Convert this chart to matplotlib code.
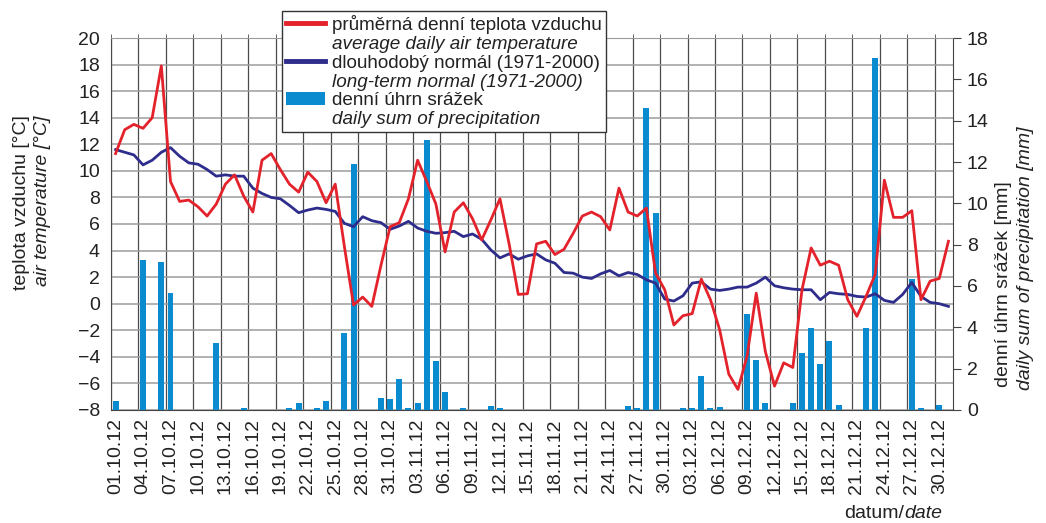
import matplotlib
matplotlib.use("Agg")
import matplotlib.pyplot as plt
from matplotlib.lines import Line2D
from matplotlib.patches import Patch
import numpy as np
import pandas as pd

plt.rcParams['font.family'] = ['Liberation Sans', 'DejaVu Sans']

# daily values, 1.10.2012 - 31.12.2012
dates = pd.date_range("2012-10-01", "2012-12-31", freq="D")

temp = [11.3, 13.1, 13.5, 13.2, 14.0, 17.9, 9.2, 7.7, 7.8, 7.3,
        6.6, 7.5, 9.0, 9.7, 8.1, 6.9, 10.8, 11.3, 10.1, 9.0,
        8.4, 9.9, 9.2, 7.6, 9.0, 4.3, -0.1, 0.5, -0.2, 2.9,
        5.8, 6.1, 7.9, 10.8, 9.2, 7.5, 3.9, 6.9, 7.6, 6.4,
        4.8, 6.3, 7.9, 4.5, 0.7, 0.75, 4.5, 4.7, 3.7, 4.1,
        5.3, 6.6, 6.9, 6.55, 5.55, 8.7, 6.9, 6.6, 7.2, 2.3,
        1.05, -1.6, -0.9, -0.75, 1.85, 0.3, -1.95, -5.3, -6.45, -3.95,
        0.8, -3.6, -6.2, -4.45, -4.8, 1.05, 4.2, 2.9, 3.2, 2.9,
        0.3, -0.95, 0.55, 2.2, 9.3, 6.5, 6.5, 7.0, 0.3, 1.7,
        1.9, 4.7]

normal = [11.6, 11.4, 11.2, 10.45, 10.8, 11.4, 11.75, 11.1, 10.6, 10.5,
          10.1, 9.6, 9.7, 9.6, 9.6, 8.7, 8.3, 8.0, 7.9, 7.4,
          6.85, 7.05, 7.2, 7.1, 6.95, 6.05, 5.8, 6.55, 6.25, 6.1,
          5.6, 5.85, 6.2, 5.7, 5.45, 5.3, 5.35, 5.45, 5.05, 5.25,
          4.85, 4.05, 3.45, 3.75, 3.35, 3.6, 3.75, 3.3, 3.05, 2.35,
          2.3, 2.0, 1.9, 2.25, 2.5, 2.1, 2.35, 2.2, 1.8, 1.55,
          0.35, 0.2, 0.6, 1.55, 1.65, 1.1, 1.0, 1.1, 1.25, 1.25,
          1.55, 2.0, 1.35, 1.2, 1.1, 1.05, 1.05, 0.3, 0.85, 0.75,
          0.7, 0.55, 0.5, 0.75, 0.25, 0.1, 0.7, 1.6, 0.55, 0.1,
          0.0, -0.2]

precip = [0.44, 0, 0, 7.25, 0, 7.15, 5.65, 0, 0, 0,
          0, 3.25, 0, 0, 0.1, 0, 0, 0, 0, 0.1,
          0.32, 0, 0.1, 0.42, 0, 3.75, 11.9, 0, 0, 0.6,
          0.52, 1.5, 0.1, 0.32, 13.05, 2.35, 0.85, 0, 0.1, 0,
          0, 0.21, 0.1, 0, 0, 0, 0, 0, 0, 0,
          0, 0, 0, 0, 0, 0, 0.2, 0.1, 14.6, 9.55,
          0, 0, 0.1, 0.1, 1.65, 0.1, 0.15, 0, 0, 4.65,
          2.42, 0.32, 0, 0, 0.32, 2.75, 3.95, 2.22, 3.35, 0.24,
          0, 0, 3.95, 17.05, 0, 0, 0, 6.35, 0.1, 0,
          0.25, 0]

RED = '#e3222b'
NAVY = '#2e2d8c'
BAR = '#0a8bd0'
TXT = '#222222'
GRIDV = '#4a4a4a'
GRIDH = '#9c9c9c'

x = np.arange(len(dates))

fig = plt.figure(figsize=(10.46, 5.23), dpi=100)
pos = [111/1046, 1 - 410/523, (953 - 111)/1046, (410 - 38)/523]

# background axes: grid + left scale
ax = fig.add_axes(pos, zorder=0)
ax.set_xlim(-0.5, len(dates) - 0.5)
ax.set_ylim(-8, 20)
ax.set_yticks(np.arange(-8, 21, 2))
ax.set_xticks(x[::3])
ax.set_xticklabels([d.strftime('%d.%m.%y') for d in dates[::3]], rotation=90)
ax.set_xticks(np.arange(-0.5, len(dates), 3), minor=True)
ax.grid(True, which='minor', axis='x', color=GRIDV, lw=0.9)
ax.grid(True, which='major', axis='y', color=GRIDH, lw=1.1)
ax.tick_params(axis='x', which='major', length=0, labelsize=14, colors=TXT, pad=6)
ax.tick_params(axis='x', which='minor', bottom=False, top=True, direction='out',
               length=3, color=GRIDV)
ax.tick_params(axis='y', length=0, labelsize=14, colors=TXT, pad=8)
ax.spines['left'].set_color(GRIDV)
ax.spines['top'].set_color(GRIDH)
ax.spines['bottom'].set_color('#444444')
ax.spines['right'].set_color('#444444')

# precipitation bars, right scale
ax2 = ax.twinx()
ax2.set_zorder(1)
ax2.patch.set_visible(False)
ax2.bar(x, precip, width=0.65, color=BAR)
ax2.set_ylim(0, 18)
ax2.set_yticks(np.arange(0, 19, 2))
ax2.tick_params(axis='y', length=6, color='#444444', labelsize=14, colors=TXT, pad=4)
for s in ax2.spines.values():
    s.set_visible(False)

# temperature lines on top
ax3 = fig.add_axes(pos, sharex=ax, zorder=2)
ax3.patch.set_visible(False)
ax3.set_ylim(-8, 20)
ax3.axis('off')
ax3.plot(x, normal, color=NAVY, lw=2.0)
ax3.plot(x, temp, color=RED, lw=2.0)

# axis titles
fig.text(22/1046, 1 - 290/523, 'teplota vzduchu [°C]', rotation=90,
         ha='center', va='bottom', fontsize=14, color=TXT)
fig.text(43/1046, 1 - 286/523, 'air temperature [°C]', rotation=90,
         ha='center', va='bottom', fontsize=14, color=TXT, style='italic')
fig.text(1003/1046, 1 - 387/523, 'denní úhrn srážek [mm]', rotation=90,
         ha='center', va='bottom', fontsize=14, color=TXT)
fig.text(1025/1046, 1 - 390/523, 'daily sum of precipitation [mm]', rotation=90,
         ha='center', va='bottom', fontsize=14, color=TXT, style='italic')
t = fig.text(942/1046, 1 - 513/523, 'date', ha='right', va='center',
             fontsize=14, color=TXT, style='italic')
fig.canvas.draw()
bb = t.get_window_extent()
fig.text(bb.x0 / fig.bbox.width, 1 - 513/523, 'datum/', ha='right', va='center',
         fontsize=14, color=TXT)

# legend
none = Line2D([], [], color='none')
handles = [Line2D([], [], color=RED, lw=3.5), none,
           Line2D([], [], color=NAVY, lw=3.5), none,
           Patch(facecolor=BAR, edgecolor='none'), none]
labels = ['průměrná denní teplota vzduchu', 'average daily air temperature',
          'dlouhodobý normál (1971-2000)', 'long-term normal (1971-2000)',
          'denní úhrn srážek', 'daily sum of precipitation']
leg = fig.legend(handles, labels, loc='upper left',
                 bbox_to_anchor=(282/1046, 1 - 11/523), fontsize=13.6,
                 frameon=True, fancybox=False, framealpha=1, edgecolor='#333333',
                 borderpad=0.2, labelspacing=0.09, handlelength=2.1,
                 handletextpad=0.35, borderaxespad=0)
leg.get_frame().set_linewidth(1.0)
leg.set_zorder(5)
for i, txt in enumerate(leg.get_texts()):
    txt.set_color(TXT)
    if i % 2 == 1:
        txt.set_style('italic')

fig.savefig('out.png', dpi=100)
